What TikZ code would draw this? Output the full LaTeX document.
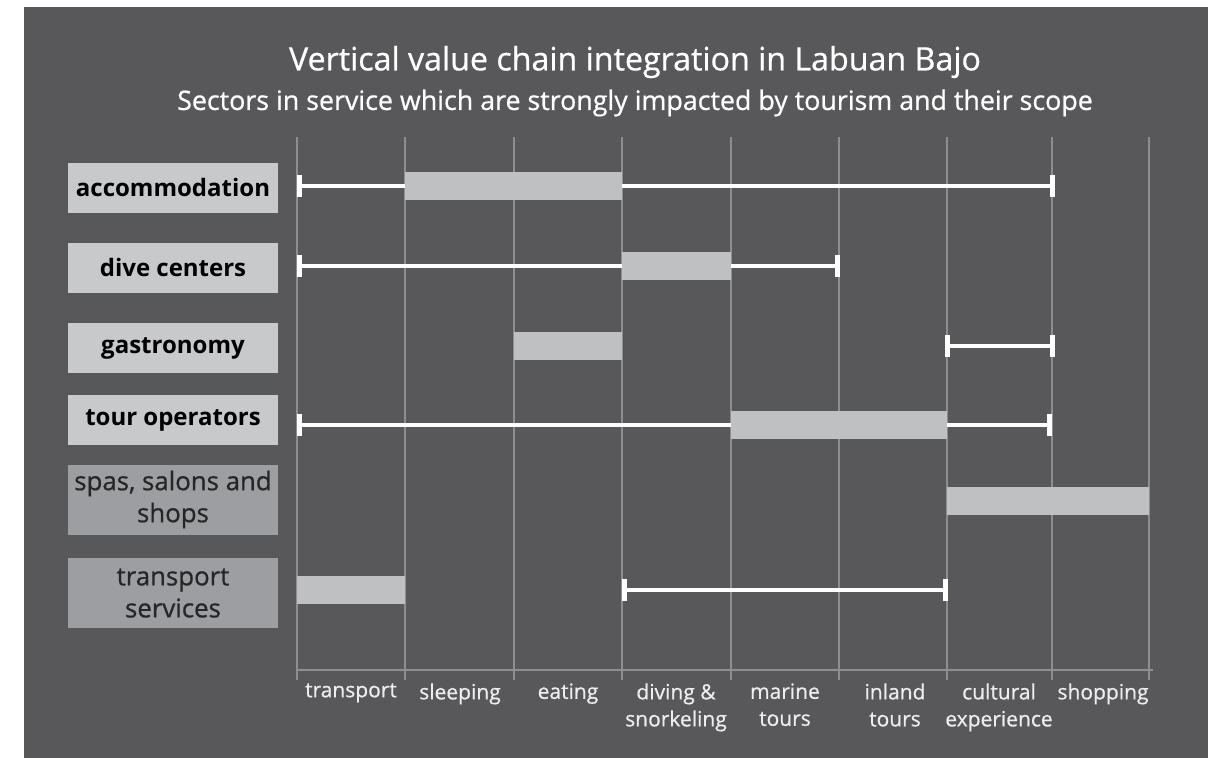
\documentclass[tikz,border=0pt]{standalone}
\usepackage{fontspec}
\setmainfont{Open Sans}
\newfontfamily\medfont{Open Sans}[FakeBold=0.7]
\usetikzlibrary{arrows.meta}

\definecolor{bgdark}{HTML}{58585A}
\definecolor{boxlight}{HTML}{C8C9CB}
\definecolor{boxdark}{HTML}{9D9EA1}
\definecolor{barfill}{HTML}{BFC0C2}
\definecolor{gridgray}{HTML}{8E8E90}

\begin{document}
\begin{tikzpicture}[x=0.5pt,y=-0.5pt,
    sector/.style={fill=boxlight,text=black,minimum width=105pt,minimum height=25pt,inner sep=0pt,
        font=\fontsize{12}{14}\selectfont\bfseries},
    minor/.style={fill=boxdark,text=black!85,minimum width=105pt,minimum height=35pt,inner sep=0pt,
        align=center,font=\medfont\fontsize{12.9}{16}\selectfont},
    spanline/.style={draw=white,line width=2.3pt,{Bar[width=11pt,line width=2.6pt]}-{Bar[width=11pt,line width=2.6pt]}},
    core/.style={fill=barfill},
    gridline/.style={draw=gridgray,line width=0.9pt},
    axislabel/.style={anchor=north,align=center,text=white!93!black,inner sep=0pt,
        font=\medfont\fontsize{10.5}{13.5}\selectfont}]
    \useasboundingbox (0,0) rectangle (1218,758);
    \fill[bgdark] (24,7) rectangle (1208,758);

    \node[text=white,font=\medfont\fontsize{16.1}{18}\selectfont] (title) at (635,62) {Vertical value chain integration in Labuan Bajo};
    \node[text=white,font=\medfont\fontsize{13.4}{16}\selectfont] (subtitle) at (635,103) {Sectors in service which are strongly impacted by tourism and their scope};

    \foreach \x in {297,405,514,622,731,839,947,1052,1149}
        \draw[gridline] (\x,137) -- (\x,680);
    \draw[gridline] (297,670) -- (1153,670);

    \node[axislabel] (transport) at (351,683) {transport};
    \node[axislabel] (sleeping) at (460,683) {sleeping};
    \node[axislabel] (eating) at (568,683) {eating};
    \node[axislabel] (diving) at (676,683) {diving \&\\snorkeling};
    \node[axislabel] (marine) at (785,683) {marine\\tours};
    \node[axislabel] (inland) at (895,683) {inland\\tours};
    \node[axislabel] (cultural) at (999,683) {cultural\\experience};
    \node[axislabel] (shopping) at (1103,683) {shopping};

    \node[sector] (accommodation) at (173,188) {accommodation};
    \node[sector] (dive) at (173,268) {dive centers};
    \node[sector] (gastronomy) at (173,348) {gastronomy};
    \node[sector] (tours) at (173,420) {tour operators};
    \node[minor] (spas) at (173,499.5) {spas, salons and\\shops};
    \node[minor] (transports) at (173,593) {transport\\services};

    \coordinate (a1) at (297,186);
    \coordinate (a2) at (1055,186);
    \coordinate (d1) at (297,266);
    \coordinate (d2) at (840,266);
    \coordinate (g1) at (945,346);
    \coordinate (g2) at (1055,346);
    \coordinate (t1) at (297,425);
    \coordinate (t2) at (1052,425);
    \coordinate (s1) at (622,590);
    \coordinate (s2) at (948,590);

    \draw[spanline] (a1) -- (a2);
    \draw[spanline] (d1) -- (d2);
    \draw[spanline] (g1) -- (g2);
    \draw[spanline] (t1) -- (t2);
    \draw[spanline] (s1) -- (s2);

    \fill[core] (405,172) rectangle (622,200);
    \fill[core] (622,252) rectangle (731,280);
    \fill[core] (514,332) rectangle (622,360);
    \fill[core] (731,411) rectangle (947,439);
    \fill[core] (947,487) rectangle (1149,515);
    \fill[core] (297,576) rectangle (405,604);
\end{tikzpicture}
\end{document}
